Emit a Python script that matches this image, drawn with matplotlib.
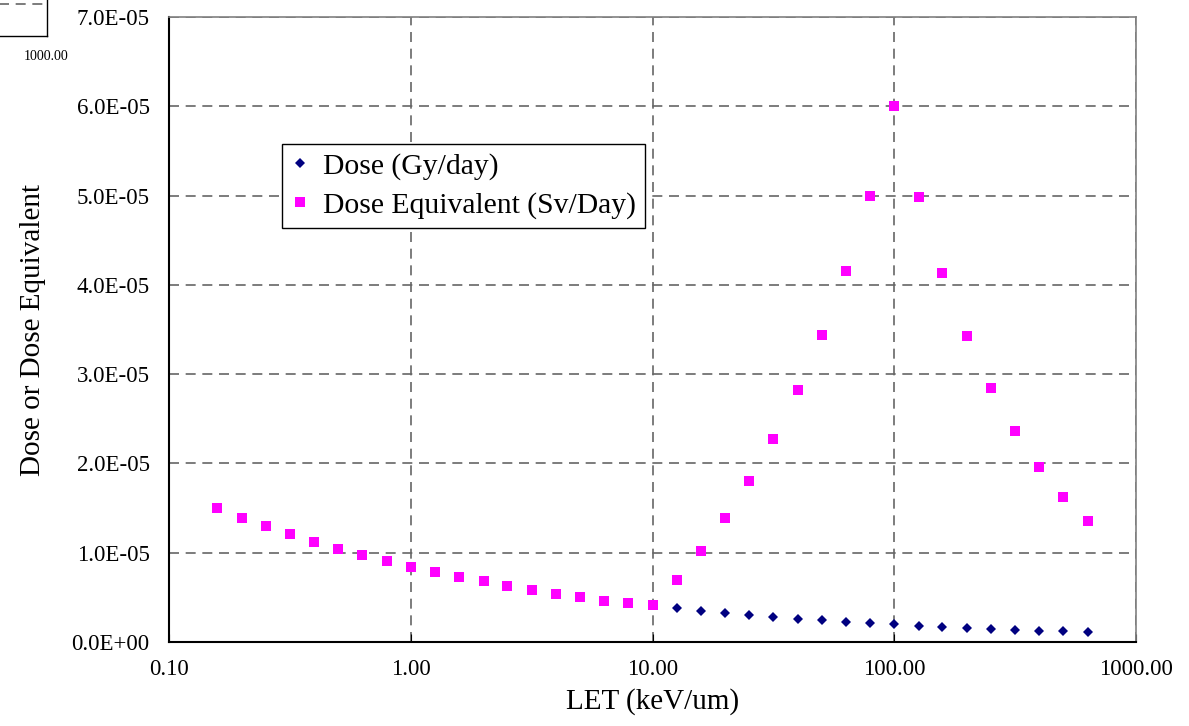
import matplotlib.pyplot as plt
import numpy as np

# LET bins (keV/um), 10 per decade
let = [0.158, 0.200, 0.251, 0.316, 0.398, 0.501, 0.631, 0.794,
       1.00, 1.26, 1.58, 2.00, 2.51, 3.16, 3.98, 5.01, 6.31, 7.94,
       10.0, 12.6, 15.8, 20.0, 25.1, 31.6, 39.8, 50.1, 63.1, 79.4,
       100.0, 126.0, 158.0, 200.0, 251.0, 316.0, 398.0, 501.0, 631.0]

# values in units of 1e-5
dose = [1.50, 1.39, 1.30, 1.21, 1.12, 1.04, 0.97, 0.91,
        0.84, 0.78, 0.73, 0.68, 0.63, 0.58, 0.54, 0.50, 0.46, 0.44,
        0.41, 0.377, 0.350, 0.328, 0.305, 0.283, 0.261, 0.243, 0.227,
        0.216, 0.198, 0.182, 0.168, 0.157, 0.146, 0.134, 0.127, 0.120, 0.112]
dose_eq = [1.50, 1.39, 1.30, 1.21, 1.12, 1.04, 0.97, 0.91,
           0.84, 0.78, 0.73, 0.68, 0.63, 0.58, 0.54, 0.50, 0.46, 0.44,
           0.41, 0.694, 1.02, 1.39, 1.80, 2.27, 2.82, 3.44, 4.15,
           4.99, 6.00, 4.98, 4.13, 3.43, 2.84, 2.36, 1.96, 1.62, 1.35]

x_ticks = [0.1, 1, 10, 100, 1000]
x_labels = ["0.10", "1.00", "10.00", "100.00", "1000.00"]
y_ticks = [0, 1, 2, 3, 4, 5, 6, 7]
y_labels = ["%.1fE%s" % (v, "+00" if v == 0 else "-05") for v in y_ticks]

plt.rcParams['font.family'] = ['Liberation Serif', 'DejaVu Serif']

fig = plt.figure(figsize=(11.89, 7.26), dpi=100)
ax = fig.add_axes([169/1189, 1-642/726, 967/1189, 625/726])

ax.plot(let, dose, linestyle='none', marker='D', markersize=5.4,
        markeredgewidth=0, color='#000080', label='Dose (Gy/day)', zorder=3)
ax.plot(let, dose_eq, linestyle='none', marker='s', markersize=7.9,
        markeredgewidth=0, color='#FF00FF', label='Dose Equivalent (Sv/Day)', zorder=4)

ax.set_xscale('log')
ax.set_xlim(0.1, 1000)
ax.set_ylim(0, 7)
ax.set_xticks(x_ticks)
ax.set_xticklabels(x_labels)
ax.minorticks_off()
ax.set_yticks(y_ticks)
ax.set_yticklabels(y_labels)
ax.tick_params(axis='x', direction='in', length=6, labelsize=16.5, pad=12)
ax.tick_params(axis='y', direction='out', length=0, labelsize=16.5, pad=14)
ax.grid(True, linestyle=(0, (6, 4)), color='#666666', linewidth=1.2)

for s in ['left', 'bottom']:
    ax.spines[s].set_color('black')
    ax.spines[s].set_linewidth(1.5)
for s in ['top', 'right']:
    ax.spines[s].set_color('#808080')
    ax.spines[s].set_linewidth(1.2)

ax.set_xlabel('LET (keV/um)', fontsize=21, labelpad=6)
ax.set_ylabel('Dose or Dose Equivalent', fontsize=21, labelpad=18)

leg = ax.legend(loc='upper left', bbox_to_anchor=((282-169)/967, (642-144)/625),
                borderaxespad=0, fontsize=21.3, fancybox=False, framealpha=1,
                edgecolor='black', markerscale=0.85, handlelength=0.6,
                handletextpad=0.5, borderpad=0.3, labelspacing=0.4)
leg.get_frame().set_linewidth(1.0)

# leftover fragment of another chart in the top-left corner
ins = fig.add_axes([-0.01, 1-36/726, 59/1189, 40/726])
ins.set_xticks([])
ins.set_yticks([])
ins.set_ylim(0, 1)
ins.axhline(0.8, linestyle=(0, (6, 4)), color='#666666', linewidth=1.2)
for s in ins.spines.values():
    s.set_color('black')
    s.set_linewidth(1.0)
fig.text(46/1189, 1-56/726, '1000.00', fontsize=10, ha='center', va='center')

plt.savefig('out.png', dpi=100)
